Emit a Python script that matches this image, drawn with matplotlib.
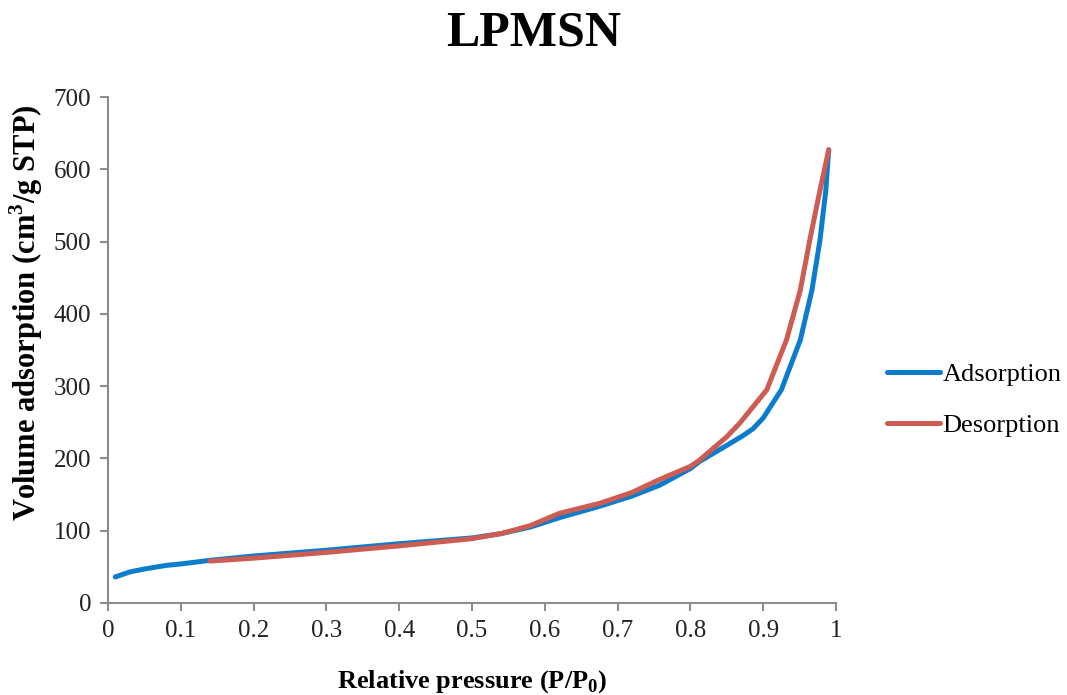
import matplotlib
matplotlib.use('Agg')
import matplotlib.pyplot as plt

# isotherm
ads_x = [0.01, 0.03, 0.05, 0.08, 0.1, 0.14, 0.2, 0.3, 0.4, 0.5, 0.54, 0.58, 0.62, 0.676, 0.72,
         0.758, 0.8, 0.813, 0.85, 0.873, 0.886, 0.9, 0.925, 0.951, 0.967, 0.978, 0.986, 0.99]
ads_y = [36, 43, 47, 52, 54, 59, 65, 73, 82, 90, 96, 105, 118, 134, 148,
         163, 186, 196, 218, 232, 241, 256, 295, 364, 433, 502, 571, 627]

des_x = [0.14, 0.2, 0.3, 0.4, 0.5, 0.54, 0.58, 0.62, 0.676, 0.72, 0.758, 0.8, 0.813, 0.85,
         0.868, 0.905, 0.932, 0.951, 0.964, 0.978, 0.99]
des_y = [58, 62, 70, 79, 89, 96, 107, 124, 138, 153, 171, 189, 198, 230,
         249, 295, 364, 433, 502, 571, 627]

plt.rcParams['font.family'] = ['Liberation Serif', 'DejaVu Serif']
plt.rcParams['mathtext.fontset'] = 'custom'
plt.rcParams['mathtext.bf'] = 'Liberation Serif:bold'
plt.rcParams['mathtext.rm'] = 'Liberation Serif'

fig = plt.figure(figsize=(10.67, 6.95), dpi=100)
ax = fig.add_axes([0.1012, 0.1324, 0.6823, 0.728])

ax.plot(ads_x, ads_y, color='#0b7dcc', lw=3.6, label='Adsorption', solid_capstyle='round')
ax.plot(des_x, des_y, color='#cd5c52', lw=3.6, label='Desorption', solid_capstyle='round')

ax.set_xlim(0, 1)
ax.set_ylim(0, 700)
ax.set_xticks([0, 0.1, 0.2, 0.3, 0.4, 0.5, 0.6, 0.7, 0.8, 0.9, 1])
ax.set_xticklabels(['0', '0.1', '0.2', '0.3', '0.4', '0.5', '0.6', '0.7', '0.8', '0.9', '1'])
ax.set_yticks(range(0, 701, 100))

for s in ['top', 'right']:
    ax.spines[s].set_visible(False)
for s in ['left', 'bottom']:
    ax.spines[s].set_color('#8c8c8c')
    ax.spines[s].set_linewidth(1.5)
ax.tick_params(direction='out', length=6, width=1.5, color='#8c8c8c',
               labelsize=18, labelcolor='#222222', pad=6)

ax.set_xlabel('Relative pressure (P/P$_\\mathbf{0}$)', fontsize=19, fontweight='bold')
ax.set_ylabel('Volume adsorption (cm$^\\mathbf{3}$/g STP)', fontsize=22, fontweight='bold')
ax.xaxis.set_label_coords(0.5, -0.128)
ax.yaxis.set_label_coords(-0.0865, 0.573)
fig.text(0.5, 0.952, 'LPMSN', ha='center', va='center', fontsize=36, fontweight='bold')

leg = ax.legend(loc='center left', bbox_to_anchor=(1.07, 0.401), frameon=False,
                borderaxespad=0, borderpad=0,
                fontsize=19, handlelength=2.0, handletextpad=0.1, labelspacing=1.05)

fig.savefig('out.png', dpi=100)
